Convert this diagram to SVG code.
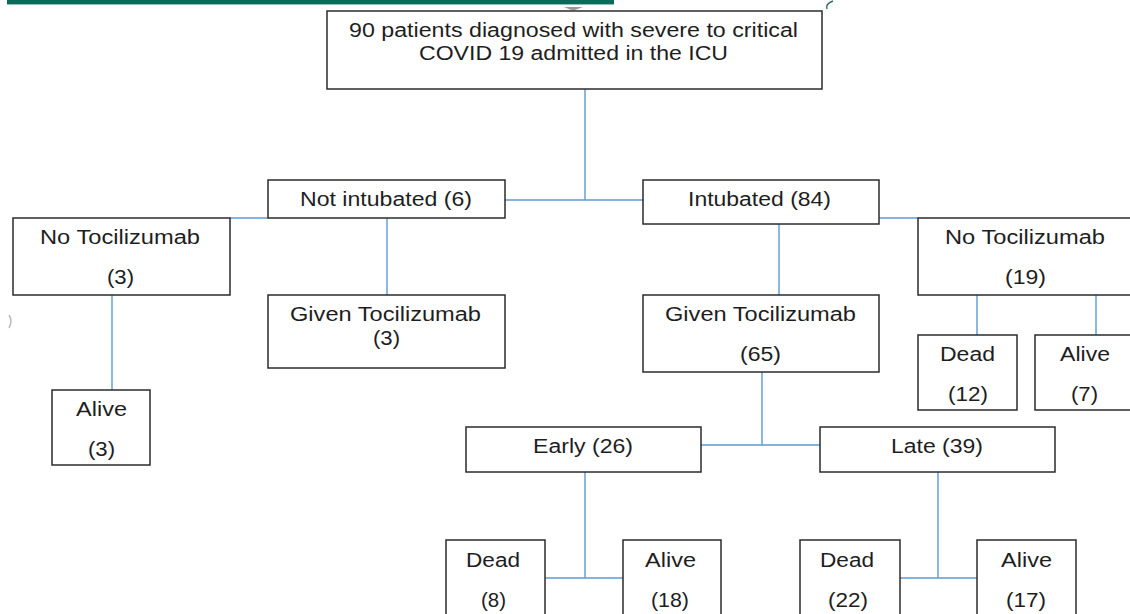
<svg xmlns="http://www.w3.org/2000/svg" width="1130" height="614" viewBox="0 0 1130 614">
<style>
.box{fill:#fff;stroke:#2b2b2b;stroke-width:1.5}
.t{font-family:"Liberation Sans",Arial,sans-serif;font-size:20px;fill:#1e1e1e;text-anchor:middle}
.c{fill:none;stroke:#5b9bd5;stroke-width:1.4}
</style>
<rect width="1130" height="614" fill="#fff"/>
<rect x="7" y="0" width="607" height="4" fill="#0b6b5a"/>
<line x1="7" y1="4.5" x2="614" y2="4.5" stroke="#8fbfb5" stroke-width="1"/>
<polygon points="564,7 583,7 575,10 571,10" fill="#9a9a9a"/>
<path d="M833,1 Q825,4 827,9" fill="none" stroke="#2a6f60" stroke-width="1.5"/>
<path d="M9,315 Q13,321 9,328" fill="none" stroke="#bbb" stroke-width="1.5"/>

<g id="connectors">
<path class="c" d="M585,89 V200 M505,200 H643"/>
<path class="c" d="M230,218 H268"/>
<path class="c" d="M387,218 V295"/>
<path class="c" d="M112,295 V390"/>
<path class="c" d="M879,218 H918"/>
<path class="c" d="M779,224 V295"/>
<path class="c" d="M977,295 V335 M1096,295 V335"/>
<path class="c" d="M762,372 V445 M701,445 H820"/>
<path class="c" d="M585,472 V578 M545,578 H623"/>
<path class="c" d="M938,472 V578 M900,578 H977"/>
</g>

<g id="n-root">
<rect class="box" x="327" y="11" width="495" height="78"/>
<text class="t" x="573.5" y="37" textLength="449" lengthAdjust="spacingAndGlyphs">90 patients diagnosed with severe to critical</text>
<text class="t" x="573.5" y="60" textLength="309" lengthAdjust="spacingAndGlyphs">COVID 19 admitted in the ICU</text>
</g>
<g id="n-notint">
<rect class="box" x="268" y="180" width="237" height="38"/>
<text class="t" x="386" y="206" textLength="172" lengthAdjust="spacingAndGlyphs">Not intubated (6)</text>
</g>
<g id="n-int">
<rect class="box" x="643" y="180" width="236" height="44"/>
<text class="t" x="759.5" y="206" textLength="143" lengthAdjust="spacingAndGlyphs">Intubated (84)</text>
</g>
<g id="n-notoci-left">
<rect class="box" x="13" y="218" width="217" height="77"/>
<text class="t" x="120" y="244" textLength="160" lengthAdjust="spacingAndGlyphs">No Tocilizumab</text>
<text class="t" x="120.5" y="284" textLength="27" lengthAdjust="spacingAndGlyphs">(3)</text>
</g>
<g id="n-alive-left">
<rect class="box" x="52" y="390" width="98" height="75"/>
<text class="t" x="101.5" y="416" textLength="51" lengthAdjust="spacingAndGlyphs">Alive</text>
<text class="t" x="101.5" y="456" textLength="27" lengthAdjust="spacingAndGlyphs">(3)</text>
</g>
<g id="n-given3">
<rect class="box" x="268" y="295" width="237" height="73"/>
<text class="t" x="385.5" y="321" textLength="191" lengthAdjust="spacingAndGlyphs">Given Tocilizumab</text>
<text class="t" x="386.5" y="345" textLength="27" lengthAdjust="spacingAndGlyphs">(3)</text>
</g>
<g id="n-given65">
<rect class="box" x="643" y="295" width="236" height="77"/>
<text class="t" x="760.5" y="321" textLength="191" lengthAdjust="spacingAndGlyphs">Given Tocilizumab</text>
<text class="t" x="760.5" y="361" textLength="41" lengthAdjust="spacingAndGlyphs">(65)</text>
</g>
<g id="n-notoci-right">
<rect class="box" x="918" y="218" width="216" height="77"/>
<text class="t" x="1025" y="244" textLength="160" lengthAdjust="spacingAndGlyphs">No Tocilizumab</text>
<text class="t" x="1025.5" y="284" textLength="41" lengthAdjust="spacingAndGlyphs">(19)</text>
</g>
<g id="n-dead12">
<rect class="box" x="918" y="335" width="99" height="75"/>
<text class="t" x="967.5" y="361" textLength="55" lengthAdjust="spacingAndGlyphs">Dead</text>
<text class="t" x="968" y="401" textLength="40" lengthAdjust="spacingAndGlyphs">(12)</text>
</g>
<g id="n-alive7">
<rect class="box" x="1035" y="335" width="99" height="75"/>
<text class="t" x="1085" y="361" textLength="50" lengthAdjust="spacingAndGlyphs">Alive</text>
<text class="t" x="1084.5" y="401" textLength="27" lengthAdjust="spacingAndGlyphs">(7)</text>
</g>
<g id="n-early">
<rect class="box" x="466" y="427" width="235" height="45"/>
<text class="t" x="583" y="453" textLength="100" lengthAdjust="spacingAndGlyphs">Early (26)</text>
</g>
<g id="n-late">
<rect class="box" x="820" y="427" width="235" height="45"/>
<text class="t" x="937" y="453" textLength="92" lengthAdjust="spacingAndGlyphs">Late (39)</text>
</g>
<g id="n-dead8">
<rect class="box" x="446" y="540" width="99" height="80"/>
<text class="t" x="493" y="567" textLength="54" lengthAdjust="spacingAndGlyphs">Dead</text>
<text class="t" x="493.5" y="607" textLength="25" lengthAdjust="spacingAndGlyphs">(8)</text>
</g>
<g id="n-alive18">
<rect class="box" x="623" y="540" width="98" height="80"/>
<text class="t" x="670.5" y="567" textLength="51" lengthAdjust="spacingAndGlyphs">Alive</text>
<text class="t" x="670" y="607" textLength="38" lengthAdjust="spacingAndGlyphs">(18)</text>
</g>
<g id="n-dead22">
<rect class="box" x="800" y="540" width="100" height="80"/>
<text class="t" x="847" y="567" textLength="54" lengthAdjust="spacingAndGlyphs">Dead</text>
<text class="t" x="848" y="607" textLength="40" lengthAdjust="spacingAndGlyphs">(22)</text>
</g>
<g id="n-alive17">
<rect class="box" x="977" y="540" width="99" height="80"/>
<text class="t" x="1026.5" y="567" textLength="51" lengthAdjust="spacingAndGlyphs">Alive</text>
<text class="t" x="1026" y="607" textLength="40" lengthAdjust="spacingAndGlyphs">(17)</text>
</g>
</svg>
